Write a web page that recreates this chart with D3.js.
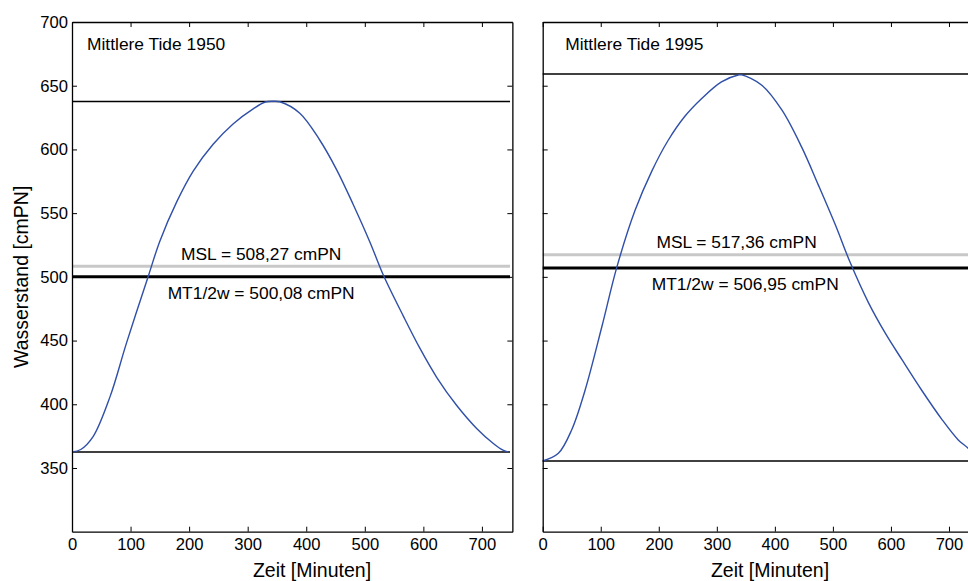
<!DOCTYPE html>
<html>
<head>
<meta charset="utf-8">
<script src="https://cdn.jsdelivr.net/npm/d3@7"></script>
<style>
  body { margin:0; background:#fff; }
  svg { font-family: "Liberation Sans", Arial, sans-serif; }
  .tick text { font-size: 16.6px; fill:#000; }
  .title { font-size: 17.4px; }
  .note { font-size: 17.4px; text-anchor: middle; }
  .label { font-size: 19.5px; text-anchor: middle; }
</style>
</head>
<body>
<svg id="chart" width="968" height="581"></svg>
<script>
// Tide 1950 (minutes, cmPN)
var time1950  = [0, 15, 36, 65, 93, 130, 150, 179, 207, 241, 275, 310, 330, 343, 355, 389, 423, 452, 480, 509, 532, 566, 594, 623, 657, 691, 720, 736, 745]
var level1950 = [362.6, 364.5, 374.6, 406, 448, 500.1, 528, 559, 583, 604, 620, 632, 637.2, 637.8, 637.4, 628.4, 607.4, 584, 557, 527, 501, 469, 444, 421, 399, 381, 369, 364, 362.6]

// Tide 1995
var time1995  = [0, 27, 50, 73, 102, 128, 159, 188, 216, 245, 274, 308, 337, 343, 377, 412, 446, 475, 504, 530, 561, 590, 619, 653, 688, 716, 733, 745]
var level1995 = [355.5, 361.5, 380, 411, 461, 508, 552, 583, 607, 626, 640, 653, 658.4, 658.5, 650.6, 631, 602, 572, 541, 511, 480, 456, 435, 411, 388, 372, 365.4, 357]

// Reference levels [HW, NW, MSL, MT1/2w]
var ref1950 = [637.6, 362.6, 508.27, 500.08]
var ref1995 = [659.2, 355.5, 517.36, 506.95]
var msl_text = ["MSL = 508,27 cmPN", "MSL = 517,36 cmPN"]
var mt_text  = ["MT1/2w = 500,08 cmPN", "MT1/2w = 506,95 cmPN"]
var titles   = ["Mittlere Tide 1950", "Mittlere Tide 1995"]
var xTicks = [0, 100, 200, 300, 400, 500, 600, 700]
var yTicks = [350, 400, 450, 500, 550, 600, 650, 700]

var svg = d3.select("#chart")
var top_y = 22, bottom_y = 531.7

var y = d3.scaleLinear().domain([300, 700]).range([bottom_y, top_y])

var panels = [
  {time: time1950, level: level1950, ref: ref1950, x0: 72, k: 0.5856, msl_x: 323, mt_x: 323, label_x: 312, ylabels: true},
  {time: time1995, level: level1995, ref: ref1995, x0: 542.7, k: 0.5804, msl_x: 334, mt_x: 349, label_x: 770, ylabels: false}
]

panels.forEach((p, j) => {
  let x = d3.scaleLinear().domain([0, 752]).range([p.x0, p.x0 + 752*p.k])
  let g = svg.append('g')

  // HW / NW lines
  g.selectAll("line.hn").data(p.ref.slice(0, 2)).enter().append('line')
  .attr('x1', x(0)).attr('x2', x(748))
  .attr('y1', d => y(d)).attr('y2', d => y(d))
  .attr('stroke', '#000').attr('stroke-width', 1.5)

  // MSL (grey) and MT1/2w (black)
  g.append('line')
  .attr('x1', x(0)).attr('x2', x(748))
  .attr('y1', y(p.ref[2])).attr('y2', y(p.ref[2]))
  .attr('stroke', '#c8c8c8').attr('stroke-width', 3)
  g.append('line')
  .attr('x1', x(0)).attr('x2', x(748))
  .attr('y1', y(p.ref[3])).attr('y2', y(p.ref[3]))
  .attr('stroke', '#000').attr('stroke-width', 3)

  // Curve
  let line = d3.line().curve(d3.curveCatmullRom.alpha(0.5))
  .x((d, i) => x(p.time[i])).y(d => y(d))
  g.append('path').datum(p.level)
  .attr('d', line)
  .attr('fill', 'none').attr('stroke', '#2f4fa8').attr('stroke-width', 1.4)

  // Axes (MATLAB style, ticks inside)
  let axes = [
    [d3.axisBottom(x), `translate(0,${bottom_y})`, xTicks, true, 7],
    [d3.axisTop(x), `translate(0,${top_y})`, xTicks, false, 4],
    [d3.axisLeft(y), `translate(${x(0)},0)`, yTicks, p.ylabels, 4],
    [d3.axisRight(y), `translate(${x(752)},0)`, yTicks, false, 4]
  ]
  axes.forEach(a => {
    let ax = a[0].tickValues(a[2]).tickSize(-5).tickSizeOuter(0).tickPadding(a[4])
    if(!a[3]) ax.tickFormat("")
    let ag = g.append('g').attr('transform', a[1]).call(ax)
    ag.select('.domain').attr('stroke-width', 1.3)
    ag.selectAll('.tick line').attr('stroke-width', 1)
    ag.selectAll('text').attr('font-family', null).attr('font-size', null)
  })

  // Texts
  g.append('text').attr('class', 'title')
  .attr('x', x(0) + 15 + (j == 1 ? 7.5 : 0)).attr('y', 49.5)
  .text(titles[j])
  g.append('text').attr('class', 'note')
  .attr('x', x(p.msl_x)).attr('y', y(p.ref[2]) - 6.5)
  .text(msl_text[j])
  g.append('text').attr('class', 'note')
  .attr('x', x(p.mt_x)).attr('y', y(p.ref[3]) + 22.5)
  .text(mt_text[j])
  g.append('text').attr('class', 'label')
  .attr('x', p.label_x).attr('y', 577)
  .text("Zeit [Minuten]")
})

svg.append('text').attr('class', 'label')
.attr('transform', `translate(28,${(top_y + bottom_y)/2}) rotate(-90)`)
.text("Wasserstand [cmPN]")
</script>
</body>
</html>
